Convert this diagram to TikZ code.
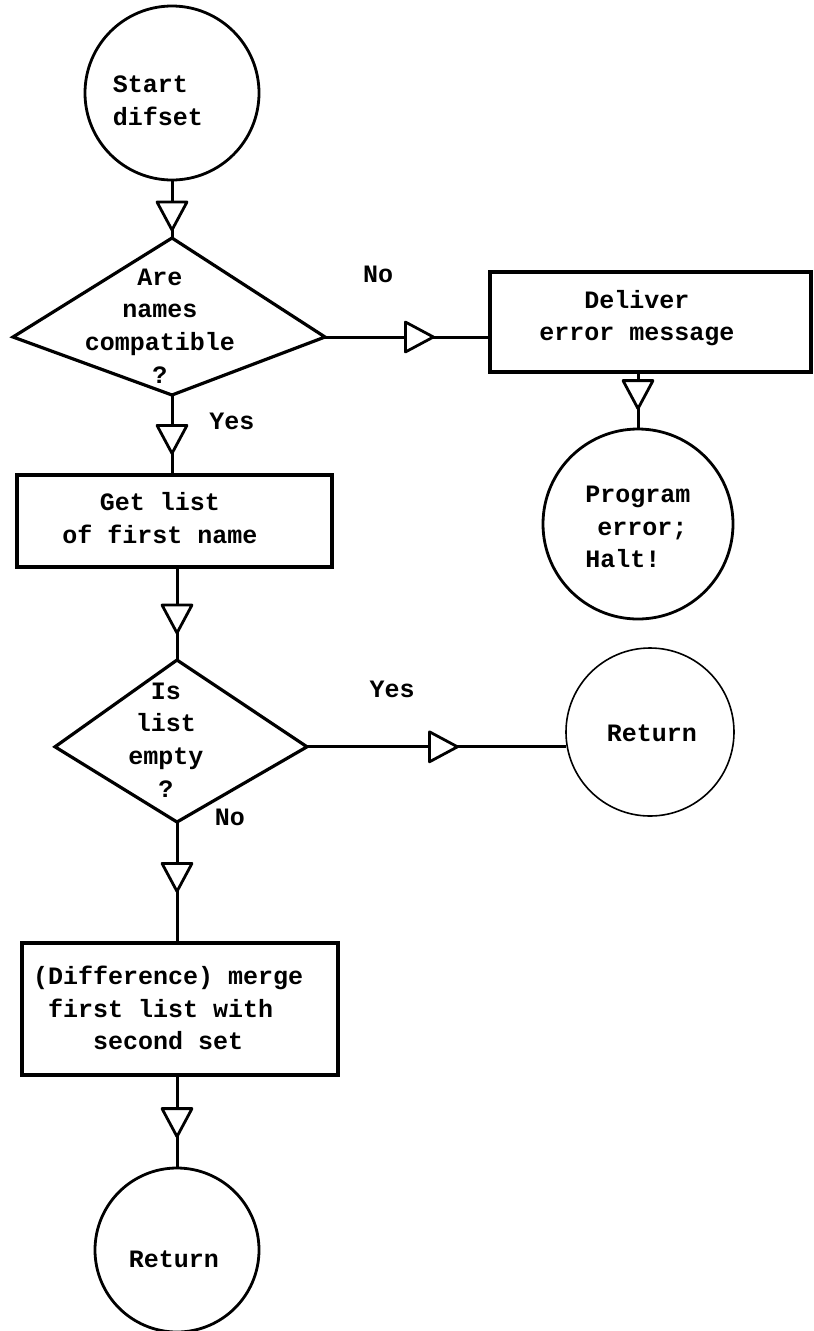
\documentclass[tikz,border=0pt]{standalone}
\usepackage{fontspec}
\newfontfamily\tw{Liberation Mono}
\usetikzlibrary{decorations.markings}

\begin{document}
\begin{tikzpicture}[x=1pt,y=-1pt,
  lbl/.style={font={\tw\bfseries\fontsize{25}{32.7}\selectfont}, align=center, inner sep=0pt},
  lblL/.style={lbl, align=left},
  term/.style={draw, circle, line width=2.8pt, inner sep=0pt},
  thinterm/.style={draw, circle, line width=1.6pt, inner sep=0pt},
  proc/.style={draw, rectangle, line width=3.2pt, inner sep=0pt},
  decision/.style={line width=3.2pt, line join=miter},
  tipat/.style={postaction={decorate, decoration={markings,
      mark=at position #1 with {\draw[line width=2.8pt, fill=white, line join=round]
        (0pt,0pt) -- (-28pt,15pt) -- (-28pt,-15pt) -- cycle;}}}},
  flow/.style={line width=3pt, tipat=#1},
]
\useasboundingbox (0,0) rectangle (814,1331);

% ---- main column --------------------------------------------------------
\node[term, minimum size=174pt] (start) at (172,93) {};
\node[lblL] (startT) at (158,101) {Start\\difset};

% first decision
\coordinate (d1t) at (172,238);
\coordinate (d1r) at (325,337);
\coordinate (d1b) at (172,395);
\coordinate (d1l) at (13,337);
\draw[decision] (d1t) -- (d1r) -- (d1b) -- (d1l) -- cycle;
\node[lbl] (d1T) at (160,326) {Are\\names\\compatible\\?};

\node[proc, minimum width=315pt, minimum height=92pt] (b1) at (174.5,521) {};
\node[lbl] (b1T) at (160,518) {Get list\\of first name};

% second decision
\coordinate (d2t) at (177,660);
\coordinate (d2r) at (307,746.8);
\coordinate (d2b) at (177,822);
\coordinate (d2l) at (55,746.8);
\draw[decision] (d2t) -- (d2r) -- (d2b) -- (d2l) -- cycle;
\node[lbl] (d2T) at (166,740) {Is\\list\\empty\\?};

\node[proc, minimum width=316pt, minimum height=132pt] (b3) at (180,1009) {};
\node[lblL, anchor=west] (b3T) at (33,1008)
  {(Difference) merge\\\phantom{x}first list with\\\phantom{xxxx}second set};

\node[term, minimum size=164pt] (ret2) at (177,1250) {};
\node[lbl] (ret2T) at (174,1259) {Return};

% ---- right column -------------------------------------------------------
\node[proc, minimum width=321pt, minimum height=100pt] (b2) at (650.5,322) {};
\node[lbl] (b2T) at (637,318) {Deliver\\error message};

\node[term, minimum size=190pt] (prog) at (638,524) {};
\node[lblL] (progT) at (638,527) {Program\\\hspace*{12pt}error;\\Halt!};

\node[thinterm, minimum size=168pt] (ret1) at (650,732) {};
\node[lbl] (ret1T) at (652,733) {Return};

% ---- connectors ---------------------------------------------------------
\draw[flow=-8pt]  (start.south) -- (d1t);
\draw[flow=-20pt] (d1b) -- (d1b |- b1.north);
\draw[flow=-27pt] (d2t |- b1.south) -- (d2t);
\draw[flow=-50pt] (d2b) -- (d2b |- b3.north);
\draw[flow=-30pt] (ret2.north |- b3.south) -- (ret2.north);
\draw[flow=-55pt] (d1r) -- (d1r -| b2.west);
\draw[flow=-19pt] (prog.north |- b2.south) -- (prog.north);
\draw[flow=-109pt] (d2r) -- (d2r -| ret1.190);

% ---- branch labels ------------------------------------------------------
\node[lbl] (no1)  at (378,274) {No};
\node[lbl] (yes1) at (232,421) {Yes};
\node[lbl] (yes2) at (392,689) {Yes};
\node[lbl] (no2)  at (230,817) {No};
\end{tikzpicture}
\end{document}
